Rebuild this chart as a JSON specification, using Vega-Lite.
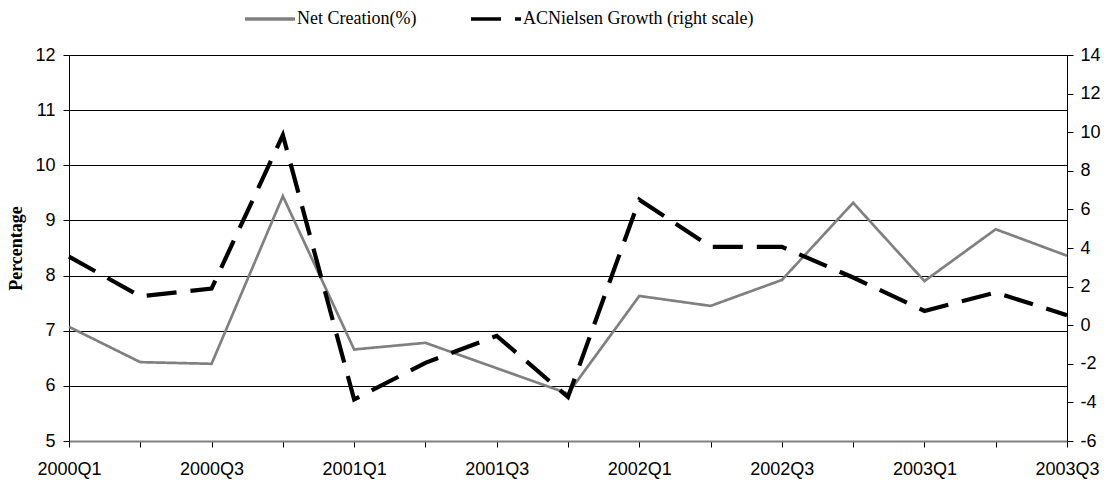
{
  "$schema": "https://vega.github.io/schema/vega-lite/v6.json",
  "width": 998,
  "height": 386,
  "autosize": "none",
  "padding": {"left": 69, "top": 55, "right": 41, "bottom": 44},
  "background": "white",
  "config": {"view": {"stroke": null}, "font": "Liberation Sans"},
  "data": {"values": [
    {"q": "2000Q1", "series": "Net Creation(%)", "v": 7.07},
    {"q": "2000Q2", "series": "Net Creation(%)", "v": 6.43},
    {"q": "2000Q3", "series": "Net Creation(%)", "v": 6.40},
    {"q": "2000Q4", "series": "Net Creation(%)", "v": 9.44},
    {"q": "2001Q1", "series": "Net Creation(%)", "v": 6.66},
    {"q": "2001Q2", "series": "Net Creation(%)", "v": 6.78},
    {"q": "2001Q3", "series": "Net Creation(%)", "v": 6.32},
    {"q": "2001Q4", "series": "Net Creation(%)", "v": 5.86},
    {"q": "2002Q1", "series": "Net Creation(%)", "v": 7.63},
    {"q": "2002Q2", "series": "Net Creation(%)", "v": 7.45},
    {"q": "2002Q3", "series": "Net Creation(%)", "v": 7.92},
    {"q": "2002Q4", "series": "Net Creation(%)", "v": 9.32},
    {"q": "2003Q1", "series": "Net Creation(%)", "v": 7.90},
    {"q": "2003Q2", "series": "Net Creation(%)", "v": 8.84},
    {"q": "2003Q3", "series": "Net Creation(%)", "v": 8.36},
    {"q": "2000Q1", "series": "ACNielsen Growth (right scale)", "v": 3.55},
    {"q": "2000Q2", "series": "ACNielsen Growth (right scale)", "v": 1.5},
    {"q": "2000Q3", "series": "ACNielsen Growth (right scale)", "v": 1.9},
    {"q": "2000Q4", "series": "ACNielsen Growth (right scale)", "v": 9.85},
    {"q": "2001Q1", "series": "ACNielsen Growth (right scale)", "v": -3.85},
    {"q": "2001Q2", "series": "ACNielsen Growth (right scale)", "v": -1.95},
    {"q": "2001Q3", "series": "ACNielsen Growth (right scale)", "v": -0.55},
    {"q": "2001Q4", "series": "ACNielsen Growth (right scale)", "v": -3.72},
    {"q": "2002Q1", "series": "ACNielsen Growth (right scale)", "v": 6.5},
    {"q": "2002Q2", "series": "ACNielsen Growth (right scale)", "v": 4.06},
    {"q": "2002Q3", "series": "ACNielsen Growth (right scale)", "v": 4.06},
    {"q": "2002Q4", "series": "ACNielsen Growth (right scale)", "v": 2.47},
    {"q": "2003Q1", "series": "ACNielsen Growth (right scale)", "v": 0.74},
    {"q": "2003Q2", "series": "ACNielsen Growth (right scale)", "v": 1.69},
    {"q": "2003Q3", "series": "ACNielsen Growth (right scale)", "v": 0.52}
  ]},
  "encoding": {
    "x": {
      "field": "q", "type": "ordinal", "sort": null,
      "scale": {"type": "point", "padding": 0},
      "axis": {
        "title": null, "labelAngle": 0, "labelFontSize": 18, "labelColor": "black",
        "labelFont": "Liberation Sans",
        "tickColor": "black", "tickSize": 6, "domainColor": "#808080", "domainWidth": 2,
        "labelPadding": 13, "grid": false,
        "labelExpr": "indexof(['2000Q1','2000Q3','2001Q1','2001Q3','2002Q1','2002Q3','2003Q1','2003Q3'], datum.value) >= 0 ? datum.value : ''"
      }
    },
    "color": {
      "field": "series", "type": "nominal",
      "scale": {"domain": ["Net Creation(%)", "ACNielsen Growth (right scale)"], "range": ["#808080", "#000000"]},
      "legend": {
        "orient": "none", "legendX": 174, "legendY": -63, "direction": "horizontal", "title": null,
        "symbolType": "stroke", "symbolSize": 2500, "symbolStrokeWidth": 3.5,
        "labelFont": "Liberation Serif", "labelFontSize": 18, "labelColor": "black", "labelLimit": 0,
        "labelOffset": 0, "columnPadding": 47
      }
    },
    "strokeDash": {
      "field": "series", "type": "nominal",
      "scale": {"domain": ["Net Creation(%)", "ACNielsen Growth (right scale)"], "range": [[1, 0], [30, 14]]},
      "legend": {
        "orient": "none", "legendX": 174, "legendY": -63, "direction": "horizontal", "title": null,
        "symbolType": "stroke", "symbolSize": 2500, "symbolStrokeWidth": 3.5,
        "labelFont": "Liberation Serif", "labelFontSize": 18, "labelColor": "black", "labelLimit": 0,
        "labelOffset": 0, "columnPadding": 47
      }
    }
  },
  "layer": [
    {
      "transform": [{"filter": "datum.series === 'Net Creation(%)'"}],
      "mark": {"type": "line", "strokeWidth": 2.7},
      "encoding": {
        "y": {
          "field": "v", "type": "quantitative",
          "scale": {"domain": [5, 12], "nice": false, "zero": false},
          "axis": {
            "orient": "left", "title": "Percentage", "titleFont": "Liberation Serif",
            "titleFontSize": 18, "titleFontWeight": "bold", "titleColor": "black", "titlePadding": 9,
            "values": [5, 6, 7, 8, 9, 10, 11, 12],
            "labelFont": "Liberation Sans", "labelFontSize": 18, "labelColor": "black", "labelPadding": 8,
            "tickColor": "black", "tickSize": 6, "domainColor": "black",
            "grid": true, "gridColor": "black", "gridWidth": 1
          }
        }
      }
    },
    {
      "transform": [{"filter": "datum.series === 'ACNielsen Growth (right scale)'"}],
      "mark": {"type": "line", "strokeWidth": 4.2},
      "encoding": {
        "y": {
          "field": "v", "type": "quantitative",
          "scale": {"domain": [-6, 14], "nice": false, "zero": false},
          "axis": {
            "orient": "right", "title": null,
            "values": [-6, -4, -2, 0, 2, 4, 6, 8, 10, 12, 14],
            "labelExpr": "'' + datum.value",
            "labelFont": "Liberation Sans", "labelFontSize": 18, "labelColor": "black", "labelPadding": 7,
            "tickColor": "black", "tickSize": 6, "domainColor": "black", "grid": false
          }
        }
      }
    }
  ],
  "resolve": {"scale": {"y": "independent"}}
}
